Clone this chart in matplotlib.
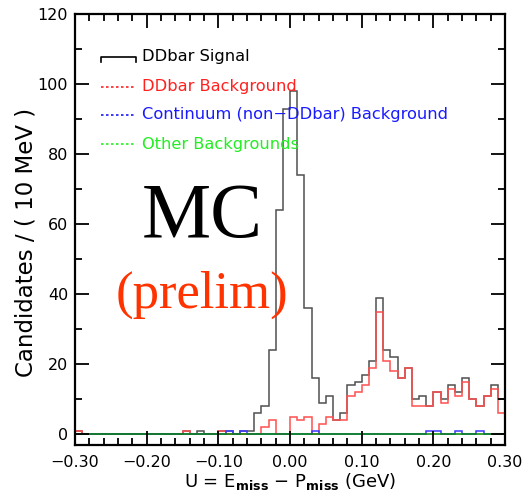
import numpy as np
import matplotlib
matplotlib.use('Agg')
import matplotlib.pyplot as plt
from matplotlib.lines import Line2D
from matplotlib.ticker import MultipleLocator

# 10 MeV bins from -0.30 to 0.30 GeV
bin_edges = np.round(np.arange(-0.30, 0.3001, 0.01), 2)

# drawn heights per bin
ddbar_signal = [1, 0, 0, 0, 0, 0, 0, 0, 0, 0,
                0, 0, 0, 0, 0, 1, 0, 1, 0, 0,
                1, 1, 0, 1, 1, 6, 8, 24, 64, 93,
                98, 74, 36, 16, 9, 11, 4, 6, 14, 15,
                17, 21, 39, 24, 22, 16, 19, 10, 11, 8,
                12, 10, 14, 12, 16, 10, 8, 11, 14, 10]
ddbar_background = [1, 0, 0, 0, 0, 0, 0, 0, 0, 0,
                    0, 0, 0, 0, 0, 1, 0, 0, 0, 0,
                    1, 0, 0, 0, 0, 0, 2, 4, 0, 0,
                    5, 4, 5, 0, 3, 5, 4, 4, 11, 12,
                    14, 19, 35, 21, 18, 16, 19, 8, 8, 8,
                    12, 9, 13, 11, 15, 10, 8, 11, 13, 6]
continuum_background = [0, 0, 0, 0, 0, 0, 0, 0, 0, 0,
                        0, 0, 0, 0, 0, 0, 0, 0, 0, 0,
                        0, 1, 0, 1, 0, 0, 0, 0, 0, 0,
                        0, 0, 0, 1, 0, 0, 0, 0, 0, 0,
                        0, 0, 0, 0, 0, 0, 0, 0, 0, 1,
                        1, 0, 0, 1, 0, 0, 1, 0, 0, 0]
other_backgrounds = [0] * 60

series = [
    ('DDbar Signal', ddbar_signal, '#505050'),
    ('DDbar Background', ddbar_background, '#ff5050'),
    ('Continuum (non\u2212DDbar) Background', continuum_background, '#3a3aff'),
    ('Other Backgrounds', other_backgrounds, '#008a00'),
]
legend_colors = ['black', '#ff2020', '#1a1aff', '#22ee22']

fig = plt.figure(figsize=(5.23, 4.95), dpi=100)
ax = fig.add_axes([75 / 523, 1 - 445 / 495, 430 / 523, 431 / 495])

for label, values, color in series:
    ax.stairs(values, bin_edges, color=color, linewidth=1.1, baseline=None)

ax.set_xlim(-0.30, 0.30)
ax.set_ylim(-3.1, 120)

ax.xaxis.set_major_locator(MultipleLocator(0.1))
ax.xaxis.set_minor_locator(MultipleLocator(0.02))
ax.yaxis.set_major_locator(MultipleLocator(20))
ax.yaxis.set_minor_locator(MultipleLocator(10))
ax.tick_params(which='both', direction='in', top=True, right=True, width=1.3, labelsize=11.5)
ax.tick_params(which='major', length=10)
ax.tick_params(which='minor', length=5)
ax.tick_params(axis='x', pad=7)
ax.tick_params(axis='y', pad=5)
ax.set_xticklabels([f'{v:.2f}'.replace('-', '\u2212') for v in ax.get_xticks()])
for s in ax.spines.values():
    s.set_linewidth(1.6)

ax.set_xlabel(r'U = E$_{\mathbf{miss}}$ $-$ P$_{\mathbf{miss}}$ (GeV)', fontsize=13, labelpad=1)
ax.set_ylabel('Candidates / ( 10 MeV )', fontsize=16.5)
ax.yaxis.set_label_coords(-37 / 430, 0.469)

# legend, drawn by hand to get the step marker of the signal entry
legend_y = [57, 86.5, 115, 144]
for (label, _, _), lc, py in zip(series, legend_colors, legend_y):
    yf = 1 - py / 495
    if label == 'DDbar Signal':
        fig.add_artist(Line2D([101 / 523, 101 / 523, 135.5 / 523, 135.5 / 523],
                              [yf - 5 / 495, yf, yf, yf - 5 / 495], color=lc, lw=1.2))
    else:
        fig.add_artist(Line2D([101 / 523, 135.5 / 523], [yf, yf], color=lc, lw=1.2,
                              linestyle=(0, (1.5, 1.5))))
    fig.text(142 / 523, yf, label, color=lc, fontsize=11.7, va='center', ha='left')

fig.text(202 / 523, 1 - 218 / 495, 'MC', family='Liberation Serif', fontsize=56,
         color='black', ha='center', va='center')
fig.text(202 / 523, 1 - 295 / 495, '(prelim)', family='Liberation Serif', fontsize=38,
         color='#ff3300', ha='center', va='center')

fig.savefig('out.png', dpi=100)
